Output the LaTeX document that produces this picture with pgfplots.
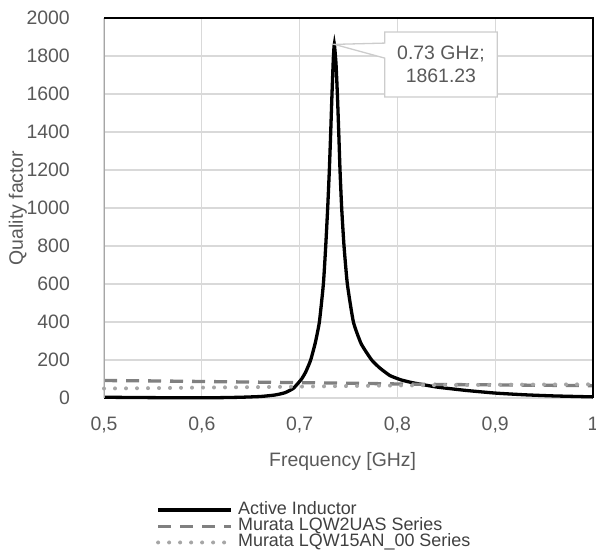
\documentclass[border=0pt]{standalone}
\usepackage{pgfplots}
\pgfplotsset{compat=1.18}
\usepackage{fontspec}
\setmainfont{Liberation Sans}
\definecolor{tickc}{HTML}{595959}
\definecolor{gridc}{HTML}{D9D9D9}
\definecolor{dashc}{HTML}{808080}
\definecolor{dotc}{HTML}{A6A6A6}
\definecolor{legc}{HTML}{404040}
\begin{document}
\begin{tikzpicture}
\begin{axis}[
  name=ax,
  scale only axis,
  width=489bp, height=380bp,
  xmin=0.5, xmax=1, ymin=0, ymax=2000,
  xtick={0.5,0.6,0.7,0.8,0.9,1},
  xticklabels={{0,5},{0,6},{0,7},{0,8},{0,9},{1}},
  ytick={0,200,...,2000},
  yticklabels={0,200,400,600,800,1000,1200,1400,1600,1800,2000},
  major tick length=0pt,
  grid=major,
  major grid style={gridc, line width=1.3bp},
  axis line style={draw=none},
  clip=false,
  tick label style={font=\fontsize{19.5}{20}\selectfont, text=tickc},
  yticklabel style={inner sep=0pt, xshift=-34bp},
  xticklabel style={inner sep=0pt, anchor=north, yshift=-19bp},
  xlabel={Frequency [GHz]},
  ylabel={Quality factor},
  label style={font=\fontsize{19.5}{20}\selectfont, text=tickc},
  xlabel style={at={(axis description cs:0.488,-0.168)}, anchor=center},
  ylabel style={at={(axis description cs:-0.176,0.5)}, anchor=center, rotate=0},
  legend style={at={(axis description cs:0.1,-0.272)}, anchor=north west,
    draw=none, fill=none, font=\fontsize{18}{18}\selectfont, text=legc,
    nodes={inner sep=0pt, text height=11bp, text depth=2bp},
    row sep=3.2bp, column sep=5bp},
  legend cell align=left,
  legend image code/.code={\draw[#1] (0bp,0bp) -- (73bp,0bp);},
]
\addplot[black, line width=3.3bp, smooth, tension=0.3] coordinates {
(0.50,4) (0.55,2) (0.60,1) (0.62,2) (0.64,4) (0.66,8) (0.675,16)
(0.685,28) (0.6936,51) (0.702,100) (0.7065,140) (0.7113,200) (0.716,290)
(0.7202,400) (0.7243,600) (0.7267,800) (0.7287,1000) (0.7304,1200)
(0.7318,1400) (0.7331,1600) (0.7345,1790) (0.7355,1861.23)
(0.7372,1760) (0.7386,1600) (0.740,1400) (0.7413,1200) (0.743,1000)
(0.7454,800) (0.7488,600) (0.755,400) (0.763,285) (0.7737,200)
(0.782,158) (0.7924,118) (0.804,95) (0.816,80)
(0.84,58) (0.87,40) (0.90,26) (0.93,17) (0.96,11) (1.0,6)
};
\addlegendentry{Active Inductor}
\addplot[dashc, line width=3.3bp, dash pattern=on 13bp off 9bp] coordinates {
(0.50,92) (0.55,90) (0.60,87) (0.65,84) (0.70,81) (0.75,78) (0.80,74)
(0.85,71) (0.90,69) (0.95,67) (1.0,65)
};
\addlegendentry{Murata LQW2UAS Series}
\addplot[dotc, line width=4bp, line cap=round, dash pattern=on 0bp off 11bp] coordinates {
(0.50,50) (0.55,52) (0.60,55) (0.65,57) (0.70,60) (0.75,63) (0.80,66)
(0.85,68) (0.90,70) (0.95,71) (1.0,72)
};
\addlegendentry{Murata LQW15AN\_00 Series}
\draw[gray!70, line width=0.8bp] (rel axis cs:0,0) -- (rel axis cs:0,1);
\draw[black, line width=1.2bp] (rel axis cs:0,1) -- (rel axis cs:1,1) -- (rel axis cs:1,0);
\draw[gray!40, line width=1.3bp, fill=white]
  (axis cs:0.787,1926) -- (axis cs:0.902,1926) -- (axis cs:0.902,1584)
  -- (axis cs:0.787,1584) -- (axis cs:0.787,1789) -- (axis cs:0.7355,1861.23)
  -- (axis cs:0.787,1868) -- cycle;
\node[align=center, text=tickc, font=\fontsize{19.5}{23}\selectfont, inner sep=0pt]
  at (axis cs:0.8445,1755) {0.73 GHz;\\1861.23};
\coordinate (bl) at (axis description cs:-0.2127,-0.4105);
\coordinate (tr) at (axis description cs:1.0061,1.0474);
\end{axis}
\pgfresetboundingbox
\path (bl) rectangle (tr);
\end{tikzpicture}
\end{document}
